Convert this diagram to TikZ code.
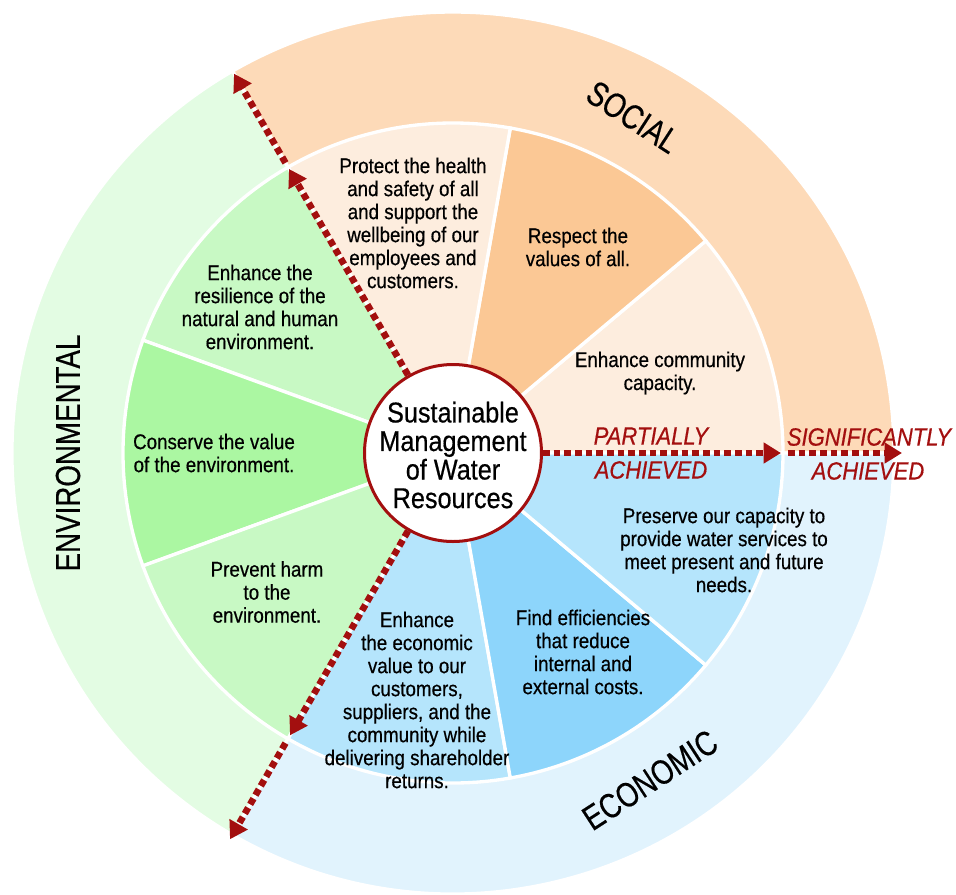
\documentclass[tikz,border=0pt]{standalone}
\usepackage{fontspec}
\setmainfont{Liberation Sans}[FakeStretch=0.88, FakeBold=0.5]
\newfontfamily\labelfont{Liberation Sans}[FakeStretch=0.8, FakeBold=0.4]
\usetikzlibrary{arrows.meta}

\definecolor{socring}{HTML}{FDDAB8}
\definecolor{socpale}{HTML}{FDEDDE}
\definecolor{socdeep}{HTML}{FBC895}
\definecolor{envring}{HTML}{E3FCE3}
\definecolor{envpale}{HTML}{C8F9C4}
\definecolor{envdeep}{HTML}{ABF7A2}
\definecolor{ecoring}{HTML}{E1F3FD}
\definecolor{ecopale}{HTML}{B5E5FC}
\definecolor{ecodeep}{HTML}{8DD5FB}
\definecolor{achred}{HTML}{A30F0F}

\tikzset{
  wedgefill/.style={draw=white, line width=2.5pt},
  goal/.style={align=center, inner sep=0pt, font=\fontsize{16}{17.25}\selectfont},
  pillar/.style={inner sep=0pt, font=\labelfont\fontsize{26}{28}\selectfont},
  grade/.style={inner sep=0pt, text=achred, font=\itshape\fontsize{18.75}{20}\selectfont},
  achieve/.style={draw=achred, line width=5pt, dash pattern=on 5pt off 3pt, -{Triangle[length=13pt,width=15pt]}},
  core/.style={circle, draw=achred, fill=white, line width=2.25pt, minimum size=132.75pt, inner sep=0pt}
}

\begin{document}
\begin{tikzpicture}[x=0.75pt, y=0.75pt]
  \useasboundingbox (-453,-441) rectangle (503,453);

  %% outer ring
  \filldraw[wedgefill, fill=socring] (0,0) -- (0:441) arc[start angle=0, end angle=120, radius=441] -- cycle;
  \filldraw[wedgefill, fill=envring] (0,0) -- (120:441) arc[start angle=120, end angle=240, radius=441] -- cycle;
  \filldraw[wedgefill, fill=ecoring] (0,0) -- (240:441) arc[start angle=240, end angle=360, radius=441] -- cycle;

  %% social wedges
  \filldraw[wedgefill, fill=socpale] (0,0) -- (0:330) arc[start angle=0, end angle=40, radius=330] -- cycle;
  \filldraw[wedgefill, fill=socdeep] (0,0) -- (40:330) arc[start angle=40, end angle=80, radius=330] -- cycle;
  \filldraw[wedgefill, fill=socpale] (0,0) -- (80:330) arc[start angle=80, end angle=120, radius=330] -- cycle;

  %% environmental wedges
  \filldraw[wedgefill, fill=envpale] (0,0) -- (120:330) arc[start angle=120, end angle=160, radius=330] -- cycle;
  \filldraw[wedgefill, fill=envdeep] (0,0) -- (160:330) arc[start angle=160, end angle=200, radius=330] -- cycle;
  \filldraw[wedgefill, fill=envpale] (0,0) -- (200:330) arc[start angle=200, end angle=240, radius=330] -- cycle;

  %% economic wedges
  \filldraw[wedgefill, fill=ecopale] (0,0) -- (240:330) arc[start angle=240, end angle=280, radius=330] -- cycle;
  \filldraw[wedgefill, fill=ecodeep] (0,0) -- (280:330) arc[start angle=280, end angle=320, radius=330] -- cycle;
  \filldraw[wedgefill, fill=ecopale] (0,0) -- (320:330) arc[start angle=320, end angle=360, radius=330] -- cycle;

  %% centre
  \node[core] (core) at (0,0) {};
  \node[align=center, inner sep=0pt, font=\fontsize{21.5}{21.4}\selectfont] (coretext) at (0,-2) {Sustainable\\Management\\of Water\\Resources};

  %% arrows
  \coordinate (in0) at (0:328);
  \coordinate (mid0) at (0:335);
  \coordinate (out0) at (0:449);
  \coordinate (in120) at (120:328);
  \coordinate (mid120) at (120:335);
  \coordinate (out120) at (120:438);
  \coordinate (in240) at (240:326);
  \coordinate (mid240) at (240:335);
  \coordinate (out240) at (240:446);
  \draw[achieve] (core) -- (in0);
  \draw[achieve] (mid0) -- (out0);
  \draw[achieve] (core) -- (in120);
  \draw[achieve] (mid120) -- (out120);
  \draw[achieve] (core) -- (in240);
  \draw[achieve] (mid240) -- (out240);

  %% levels
  \node[grade] (partly) at (198,17) {PARTIALLY};
  \node[grade] (partlyach) at (198,-17) {ACHIEVED};
  \node[grade] (signif) at (416,16) {SIGNIFICANTLY};
  \node[grade] (signifach) at (415,-18) {ACHIEVED};

  %% pillars
  \node[pillar, rotate=-33] (social) at (180,336) {SOCIAL};
  \node[pillar, rotate=90] (environ) at (-385,0) {ENVIRONMENTAL};
  \node[pillar, rotate=33] (economic) at (197,-327) {ECONOMIC};

  %% social goals
  \node[goal] (protect) at (-40,230) {Protect the health\\and safety of all\\and support the\\wellbeing of our\\employees and\\customers.};
  \node[goal] (respect) at (125,206) {Respect the\\values of all.};
  \node[goal] (community) at (207,80) {Enhance community\\capacity.};

  %% environmental goals
  \node[goal] (resilience) at (-193,146) {Enhance the\\resilience of the\\natural and human\\environment.};
  \node[goal] (conserve) at (-239,0) {Conserve the value\\of the environment.};
  \node[goal] (prevent) at (-186,-139) {Prevent harm\\to the\\environment.};

  %% economic goals
  \node[goal] (ecovalue) at (-36,-247) {Enhance\\the economic\\value to our\\customers,\\suppliers, and the\\community while\\delivering shareholder\\returns.};
  \node[goal] (efficient) at (130,-199) {Find efficiencies\\that reduce\\internal and\\external costs.};
  \node[goal] (preserve) at (271,-97) {Preserve our capacity to\\provide water services to\\meet present and future\\needs.};
\end{tikzpicture}
\end{document}
